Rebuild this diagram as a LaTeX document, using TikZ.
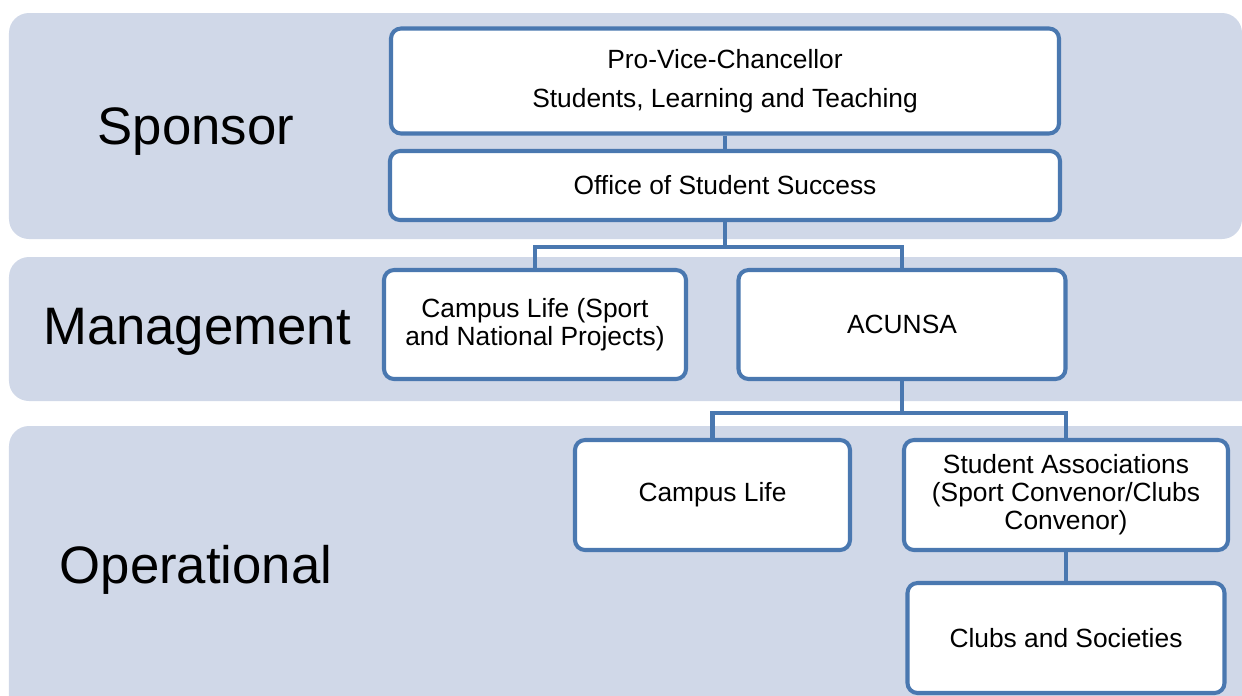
\documentclass[tikz,border=0pt]{standalone}
\usepackage{fontspec}
\setmainfont{Liberation Sans}
\usepackage{tikz}
\usetikzlibrary{positioning}

\definecolor{bandfill}{HTML}{D0D8E8}
\definecolor{boxline}{HTML}{4A78B0}

\begin{document}
\begin{tikzpicture}[
  band/.style={
    fill=bandfill,
    rounded corners=0.4cm
  },
  tier/.style={
    font=\fontsize{30}{36}\selectfont
  },
  box/.style={
    draw=boxline,
    fill=white,
    line width=2.3pt,
    rounded corners=0.2cm,
    align=center,
    font=\fontsize{15}{16}\selectfont,
    inner sep=2pt
  },
  link/.style={draw=boxline,line width=2.3pt}
]
\clip (0,0) rectangle (24.84,-13.9);

% the three tiers
\fill[band] (0.18,-0.26) rectangle (24.84,-4.78);
\fill[band] (0.18,-5.14) rectangle (25.4,-8.02);
\fill[band] (0.18,-8.52) rectangle (25.4,-14.4);

\node[tier] (sponsor) at (3.92,-2.64) {Sponsor};
\node[tier] (manage) at (3.94,-6.64) {Management};
\node[tier] (oper) at (3.92,-11.4) {Operational};

% org chart
\node[box,minimum width=13.36cm,minimum height=2.1cm] (pvc) at (14.5,-1.62)
  {Pro-Vice-Chancellor\\[6pt]Students, Learning and Teaching};
\node[box,minimum width=13.4cm,minimum height=1.38cm] (oss) at (14.5,-3.71)
  {Office of Student Success};
\node[box,minimum width=6.04cm,minimum height=2.18cm] (cls) at (10.7,-6.49)
  {Campus Life (Sport\\and National Projects)};
\node[box,minimum width=6.54cm,minimum height=2.18cm] (acu) at (18.04,-6.49)
  {ACUNSA};
\node[box,minimum width=5.5cm,minimum height=2.2cm] (cl) at (14.25,-9.9)
  {Campus Life};
\node[box,minimum width=6.48cm,minimum height=2.2cm] (sa) at (21.32,-9.9)
  {Student Associations\\(Sport Convenor/Clubs\\Convenor)};
\node[box,minimum width=6.34cm,minimum height=2.2cm] (clubs) at (21.32,-12.76)
  {Clubs and Societies};

\draw[link] (pvc) -- (oss);
\draw[link] (oss.south) -- ++(0,-0.5) -| (cls.north);
\draw[link] (oss.south) -- ++(0,-0.5) -| (acu.north);
\draw[link] (acu.south) -- ++(0,-0.64) -| (cl.north);
\draw[link] (acu.south) -- ++(0,-0.64) -| (sa.north);
\draw[link] (sa) -- (clubs);
\end{tikzpicture}
\end{document}
